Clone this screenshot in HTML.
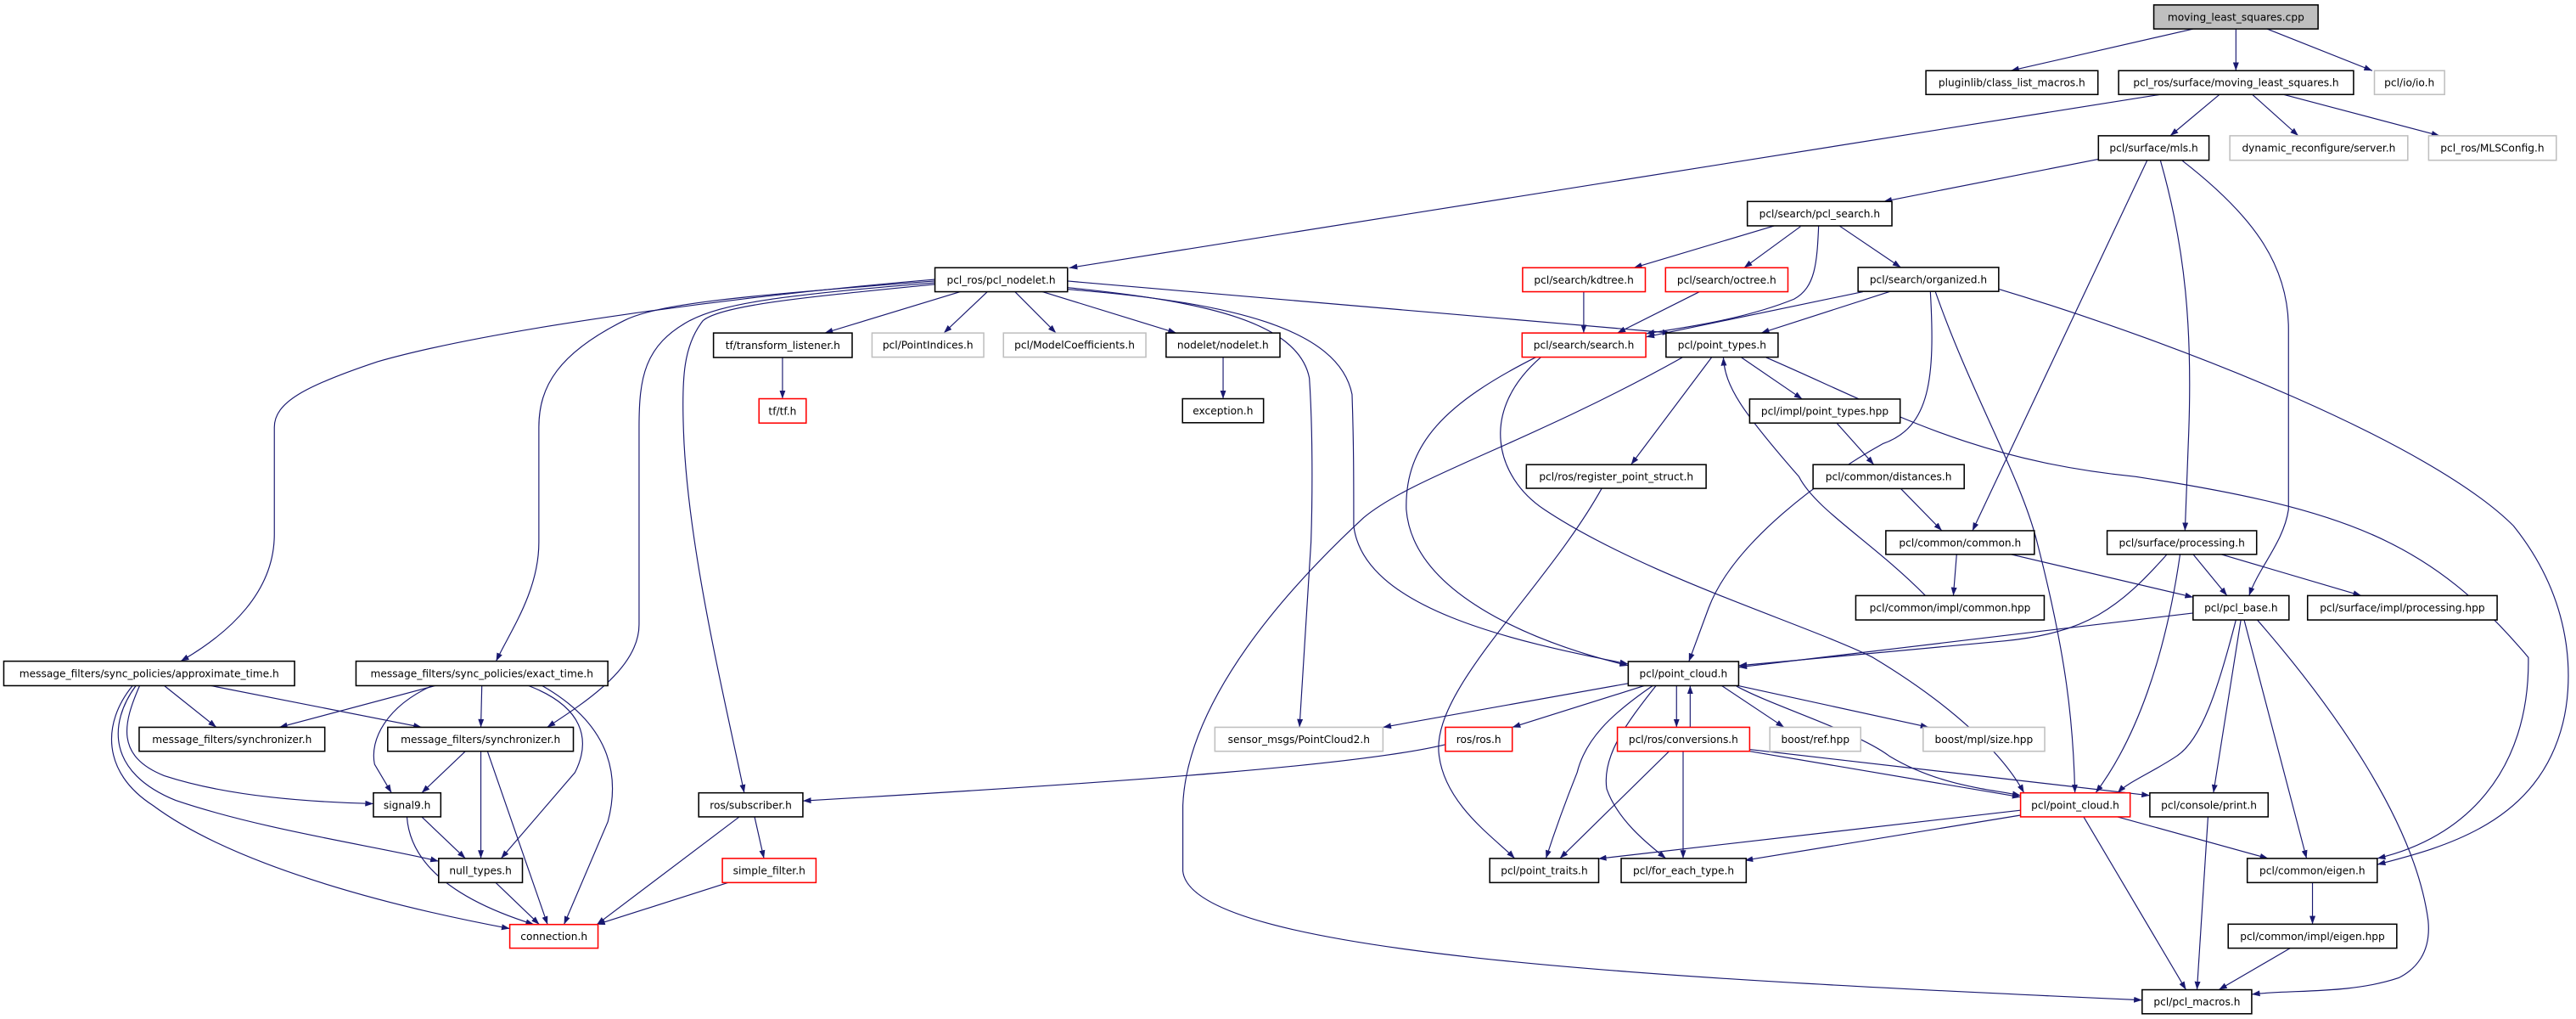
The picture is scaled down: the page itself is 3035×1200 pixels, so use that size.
<!DOCTYPE html>
<html><head><meta charset="utf-8"><style>
html,body{margin:0;padding:0;background:#fff;}
svg{display:block;}
text{font-family:"DejaVu Sans","Liberation Sans",sans-serif;font-size:6.3px;text-anchor:middle;fill:#000;}
.e{fill:none;stroke:#191970;stroke-width:0.6;marker-end:url(#a);}
.n{fill:#fff;stroke:#000;stroke-width:0.8;}
.g{fill:#fff;stroke:#bfbfbf;stroke-width:0.8;}
.r{fill:#fff;stroke:#ff0000;stroke-width:0.8;}
</style></head><body>
<svg width="3035" height="1200" viewBox="0 0 1568 620" preserveAspectRatio="none" xmlns="http://www.w3.org/2000/svg">
<defs><marker id="a" viewBox="0 0 10 10" refX="10" refY="5" markerWidth="5" markerHeight="3.6" markerUnits="userSpaceOnUse" orient="auto" preserveAspectRatio="none"><path d="M0,0 L10,5 L0,10 z" fill="#191970"/></marker></defs>
<g>
<path class="e" d="M1335,17.6 L1224,43"/>
<path class="e" d="M1361,17.6 L1361,43"/>
<path class="e" d="M1380,17.6 L1444,43"/>
<path class="e" d="M1315,57.5 L650.8,163"/>
<path class="e" d="M1351,57.5 L1321,82.6"/>
<path class="e" d="M1371,57.5 L1399,82.6"/>
<path class="e" d="M1390,57.5 L1485,82.6"/>
<path class="e" d="M1277,96.9 L1146.6,122.6"/>
<path class="e" d="M1307,97.5 L1200.6,323"/>
<path class="e" d="M1315,97.5 C1330,150 1335,200 1332,270 L1330,323"/>
<path class="e" d="M1328,97.5 C1370,130 1393,160 1393,200 L1393,310 C1390,330 1375,345 1369,362.4"/>
<path class="e" d="M1080,137.4 L994.5,162.9"/>
<path class="e" d="M1096,137.8 L1061.6,162.9"/>
<path class="e" d="M1107,137.4 C1106,160 1105,175 1092,182 C1060,195 1020,200 1002,203"/>
<path class="e" d="M1119.6,137.4 L1157,162.7"/>
<path class="e" d="M1134,177.5 L1002,205"/>
<path class="e" d="M1150.6,177.3 L1072,202.6"/>
<path class="e" d="M1175,177.3 C1178,230 1175,260 1146,270 C1110,290 1055,330 1040,370 L1028,402.5"/>
<path class="e" d="M1178,177.3 C1200,240 1230,290 1240,330 C1258,400 1262,440 1263,482.4"/>
<path class="e" d="M1217,176 C1330,210 1480,270 1530,320 C1570,370 1565,420 1560,440 C1545,500 1490,515 1447,526"/>
<path class="e" d="M1075,217.5 C1150,250 1200,280 1300,290 C1430,310 1480,330 1539,400 C1540,470 1500,510 1447,522.3"/>
<path class="e" d="M1060,217.5 L1097,242.8"/>
<path class="e" d="M1041.8,217.5 L992.8,282.7"/>
<path class="e" d="M1024,217.5 C930,270 860,290 830,315 C760,380 722,440 720,490 L720,530 C725,580 1000,595 1303.9,608.5"/>
<path class="e" d="M935,217.3 C880,245 855,270 856,310 C860,360 930,390 991,405"/>
<path class="e" d="M938,217.3 C900,250 910,290 940,310 C1000,350 1100,380 1140,400 C1190,430 1220,460 1232,482.4"/>
<path class="e" d="M975,297.1 C940,360 870,420 876,460 C880,490 910,510 922,522.3"/>
<path class="e" d="M1172,362.4 C1140,330 1105,310 1095,290 C1060,250 1050,235 1049,217.5"/>
<path class="e" d="M584.5,177.5 L502,202.6"/>
<path class="e" d="M601,177.5 L574.5,202.6"/>
<path class="e" d="M617.8,177.5 L642.8,202.6"/>
<path class="e" d="M634.5,177.5 L716,202.6"/>
<path class="e" d="M649.8,171 L1017,202.6"/>
<path class="e" d="M649.8,175 C730,183 790,195 797,230 C799,260 799,300 798,330 L791,442.5"/>
<path class="e" d="M649.8,176 C750,184 815,200 823,240 C824,270 824,290 824,320 C830,370 920,390 991,404"/>
<path class="e" d="M569,170 C450,180 300,200 230,220 C185,235 167,245 167,260 L167,325 C167,360 140,385 110,402.3"/>
<path class="e" d="M569,171 C450,180 400,185 380,195 C340,215 328,235 328,260 L328,330 C328,360 310,385 302,402.3"/>
<path class="e" d="M569,172 C470,180 440,185 420,195 C392,210 389,230 389,260 L389,380 C389,405 360,425 333,442.5"/>
<path class="e" d="M569,173 C500,180 440,185 428,195 C416,210 415,230 416,260 C418,330 440,420 453,482.4"/>
<path class="e" d="M744.5,217.3 L744.5,242.6"/>
<path class="e" d="M476.3,217.5 L476.3,242.6"/>
<path class="e" d="M964,177.5 L964,202.6"/>
<path class="e" d="M1034.5,177.5 L984.5,202.6"/>
<path class="e" d="M1118,257.4 L1140.6,282.7"/>
<path class="e" d="M1157,297.3 L1182,322.9"/>
<path class="e" d="M1191,337.3 L1189,362.4"/>
<path class="e" d="M1224,337.3 L1335,363.4"/>
<path class="e" d="M1319,337.3 C1290,370 1270,385 1220,390 L1058.3,405"/>
<path class="e" d="M1327,337.3 C1318,400 1300,450 1275.6,482.4"/>
<path class="e" d="M1335,337.3 L1355.6,362.4"/>
<path class="e" d="M1352,337.3 L1437.3,362.4"/>
<path class="e" d="M1335,373 L1058.3,406"/>
<path class="e" d="M1361,377.2 C1350,420 1340,450 1325,460 C1310,470 1295,476 1289,482.4"/>
<path class="e" d="M1364,377.2 L1347.3,482.4"/>
<path class="e" d="M1366,377.2 L1404,522.3"/>
<path class="e" d="M1374,377.2 C1420,430 1470,500 1478,560 C1480,580 1470,590 1460,595 C1430,605 1395,602 1370.6,605"/>
<path class="e" d="M991.1,415.8 L841.8,442.5"/>
<path class="e" d="M1001,417.2 L920.5,442.5"/>
<path class="e" d="M1006,417.2 C980,435 965,450 960,470 C950,495 945,510 941,522.3"/>
<path class="e" d="M1008,417.2 C990,440 975,460 978,480 C985,500 1005,515 1014,522.3"/>
<path class="e" d="M1020.5,417.2 L1020.5,442.5"/>
<path class="e" d="M1028.8,442.5 L1028.8,417.2"/>
<path class="e" d="M1048,417.2 L1086,442.5"/>
<path class="e" d="M1057,417 L1174,442.5"/>
<path class="e" d="M1057,417.5 C1080,430 1130,445 1150,460 C1180,478 1210,480 1229.9,484"/>
<path class="e" d="M1016,457.1 L949.5,522.3"/>
<path class="e" d="M1024.5,457.1 L1024.5,522.3"/>
<path class="e" d="M1065,457.1 L1229.9,485"/>
<path class="e" d="M1065,456 L1308.6,484"/>
<path class="e" d="M1229.9,493 L972.8,522.5"/>
<path class="e" d="M1229.9,496 L1062,523.5"/>
<path class="e" d="M1288.9,497 L1380.6,522.3"/>
<path class="e" d="M1268.3,497 L1330.6,602.2"/>
<path class="e" d="M1407.6,537 L1407.6,562.3"/>
<path class="e" d="M1394,576.9 L1350.6,602.2"/>
<path class="e" d="M1344,497 L1337.3,602.2"/>
<path class="e" d="M100,417.2 L131.7,442.5"/>
<path class="e" d="M128.3,417.2 L256.7,442.5"/>
<path class="e" d="M85,417.2 C75,440 70,460 100,472 C140,485 190,488 227.3,489"/>
<path class="e" d="M82.7,417.2 C66,440 65,470 107,487 C160,505 230,515 267,524"/>
<path class="e" d="M80.7,417.2 C62,440 62,470 93,490 C140,525 230,550 310.3,565"/>
<path class="e" d="M265,417.2 L170,442.5"/>
<path class="e" d="M293.3,417.2 L292.7,442.5"/>
<path class="e" d="M263,417.2 C235,430 225,450 228,465 L238.3,482.4"/>
<path class="e" d="M321.7,417.2 C355,430 360,450 350,470 L305,522.3"/>
<path class="e" d="M330,417.2 C370,440 378,470 370,500 L343.3,562.5"/>
<path class="e" d="M283.3,457.1 L256.7,482.4"/>
<path class="e" d="M292.7,457.1 L292.7,522.3"/>
<path class="e" d="M296.7,457.1 L333.3,562.5"/>
<path class="e" d="M256.7,497 L283.3,522.3"/>
<path class="e" d="M247.7,497 C250,530 285,550 325,562.5"/>
<path class="e" d="M301.7,537 L328.3,562.5"/>
<path class="e" d="M459.3,497 L465,522.3"/>
<path class="e" d="M450,497 L363.3,562.5"/>
<path class="e" d="M443.3,537 L363.3,562.5"/>
<path class="e" d="M879.8,453 C830,465 700,475 488.7,487.3"/>
</g>
<g>
<rect x="1311" y="3" width="100" height="14.6" fill="#bfbfbf" stroke="#000" stroke-width="0.8"/><text x="1361" y="12.6">moving_least_squares.cpp</text>
<rect class="n" x="1172.3" y="43" width="104.7" height="14.5"/><text x="1224.6" y="52.5">pluginlib/class_list_macros.h</text>
<rect class="n" x="1289.6" y="43" width="143" height="14.5"/><text x="1361.1" y="52.5">pcl_ros/surface/moving_least_squares.h</text>
<rect class="g" x="1445.3" y="43" width="42.7" height="14.5"/><text x="1466.6" y="52.5">pcl/io/io.h</text>
<rect class="n" x="1277.3" y="82.6" width="67.3" height="14.9"/><text x="1311" y="92.3">pcl/surface/mls.h</text>
<rect class="g" x="1357.3" y="82.6" width="108.3" height="14.9"/><text x="1411.4" y="92.3">dynamic_reconfigure/server.h</text>
<rect class="g" x="1478.3" y="82.6" width="77.7" height="14.9"/><text x="1517.1" y="92.3">pcl_ros/MLSConfig.h</text>
<rect class="n" x="1063.6" y="122.6" width="88" height="14.8"/><text x="1107.6" y="132.2">pcl/search/pcl_search.h</text>
<rect class="n" x="1131" y="162.7" width="85.6" height="14.6"/><text x="1173.8" y="172.3">pcl/search/organized.h</text>
<rect class="r" x="926.8" y="162.9" width="74.7" height="14.6"/><text x="964.1" y="172.5">pcl/search/kdtree.h</text>
<rect class="r" x="1013.8" y="162.9" width="74.5" height="14.6"/><text x="1051" y="172.5">pcl/search/octree.h</text>
<rect class="n" x="569.1" y="162.9" width="80.7" height="14.6"/><text x="609.4" y="172.5">pcl_ros/pcl_nodelet.h</text>
<rect class="g" x="530.8" y="202.6" width="68" height="14.7"/><text x="564.8" y="212.2">pcl/PointIndices.h</text>
<rect class="g" x="610.8" y="202.6" width="86.7" height="14.7"/><text x="654.1" y="212.2">pcl/ModelCoefficients.h</text>
<rect class="n" x="709.8" y="202.6" width="69.3" height="14.7"/><text x="744.4" y="212.2">nodelet/nodelet.h</text>
<rect class="n" x="434.3" y="202.6" width="84.4" height="14.9"/><text x="476.5" y="212.3">tf/transform_listener.h</text>
<rect class="r" x="926.5" y="202.6" width="75.3" height="14.7"/><text x="964.1" y="212.2">pcl/search/search.h</text>
<rect class="n" x="1014.1" y="202.6" width="68.2" height="14.7"/><text x="1048.2" y="212.2">pcl/point_types.h</text>
<rect class="n" x="719.8" y="242.6" width="49.3" height="14.6"/><text x="744.4" y="252.2">exception.h</text>
<rect class="r" x="462" y="242.6" width="28.7" height="14.8"/><text x="476.3" y="252.3">tf/tf.h</text>
<rect class="n" x="1065" y="242.8" width="91.6" height="14.6"/><text x="1110.8" y="252.4">pcl/impl/point_types.hpp</text>
<rect class="n" x="929.1" y="282.7" width="109.4" height="14.4"/><text x="983.8" y="292.2">pcl/ros/register_point_struct.h</text>
<rect class="n" x="1103.6" y="282.7" width="92" height="14.6"/><text x="1149.6" y="292.3">pcl/common/distances.h</text>
<rect class="n" x="1147.9" y="322.9" width="90.4" height="14.4"/><text x="1193.1" y="332.4">pcl/common/common.h</text>
<rect class="n" x="1282.6" y="322.9" width="91" height="14.4"/><text x="1328.1" y="332.4">pcl/surface/processing.h</text>
<rect class="n" x="1129.6" y="362.4" width="114.7" height="14.8"/><text x="1187" y="372">pcl/common/impl/common.hpp</text>
<rect class="n" x="1334.9" y="362.4" width="58.4" height="14.8"/><text x="1364.1" y="372">pcl/pcl_base.h</text>
<rect class="n" x="1404.6" y="362.4" width="115.4" height="14.8"/><text x="1462.3" y="372">pcl/surface/impl/processing.hpp</text>
<rect class="n" x="2.3" y="402.3" width="177" height="14.9"/><text x="90.8" y="412">message_filters/sync_policies/approximate_time.h</text>
<rect class="n" x="216.7" y="402.3" width="153.3" height="14.9"/><text x="293.3" y="412">message_filters/sync_policies/exact_time.h</text>
<rect class="n" x="991.1" y="402.5" width="67.2" height="14.7"/><text x="1024.7" y="412.1">pcl/point_cloud.h</text>
<rect class="n" x="84.7" y="442.5" width="113" height="14.6"/><text x="141.2" y="452.1">message_filters/synchronizer.h</text>
<rect class="n" x="236" y="442.5" width="113" height="14.6"/><text x="292.5" y="452.1">message_filters/synchronizer.h</text>
<rect class="g" x="739.5" y="442.5" width="102.3" height="14.6"/><text x="790.6" y="452.1">sensor_msgs/PointCloud2.h</text>
<rect class="r" x="879.8" y="442.5" width="40.7" height="14.6"/><text x="900.1" y="452.1">ros/ros.h</text>
<rect class="r" x="984.5" y="442.5" width="80.5" height="14.6"/><text x="1024.7" y="452.1">pcl/ros/conversions.h</text>
<rect class="g" x="1077.3" y="442.5" width="55.3" height="14.6"/><text x="1105" y="452.1">boost/ref.hpp</text>
<rect class="g" x="1170.6" y="442.5" width="74" height="14.6"/><text x="1207.6" y="452.1">boost/mpl/size.hpp</text>
<rect class="n" x="227.3" y="482.4" width="41" height="14.6"/><text x="247.8" y="492">signal9.h</text>
<rect class="n" x="425.3" y="482.4" width="63.4" height="14.6"/><text x="457" y="492">ros/subscriber.h</text>
<rect class="r" x="1229.9" y="482.4" width="66.7" height="14.6"/><text x="1263.2" y="492">pcl/point_cloud.h</text>
<rect class="n" x="1308.6" y="482.4" width="72" height="14.6"/><text x="1344.6" y="492">pcl/console/print.h</text>
<rect class="n" x="267" y="522.3" width="51" height="14.7"/><text x="292.5" y="531.9">null_types.h</text>
<rect class="r" x="439.7" y="522.3" width="57" height="14.7"/><text x="468.2" y="531.9">simple_filter.h</text>
<rect class="n" x="906.8" y="522.3" width="66.3" height="14.7"/><text x="940" y="531.9">pcl/point_traits.h</text>
<rect class="n" x="986.8" y="522.3" width="76.1" height="14.7"/><text x="1024.8" y="531.9">pcl/for_each_type.h</text>
<rect class="n" x="1367.9" y="522.3" width="79.1" height="14.7"/><text x="1407.5" y="531.9">pcl/common/eigen.h</text>
<rect class="r" x="310.3" y="562.5" width="53.7" height="14.4"/><text x="337.2" y="572">connection.h</text>
<rect class="n" x="1356.3" y="562.3" width="102.6" height="14.6"/><text x="1407.6" y="571.9">pcl/common/impl/eigen.hpp</text>
<rect class="n" x="1303.9" y="602.2" width="66.7" height="14.6"/><text x="1337.3" y="611.8">pcl/pcl_macros.h</text>
</g>
</svg>
</body></html>
